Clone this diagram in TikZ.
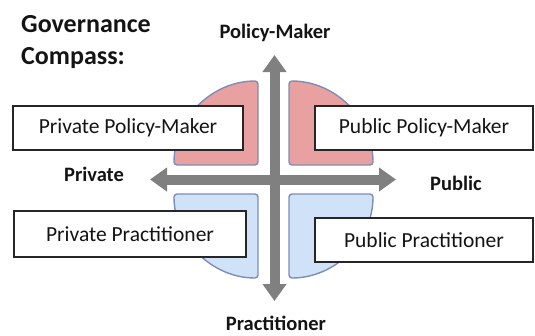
\documentclass[tikz,border=0pt]{standalone}
\usepackage{fontspec}
\setmainfont{Carlito}
\usetikzlibrary{arrows.meta}
\definecolor{quadpink}{RGB}{232,160,160}
\definecolor{quadblue}{RGB}{207,226,248}
\definecolor{quadedge}{RGB}{124,142,184}
\definecolor{axisgray}{RGB}{128,128,128}
\definecolor{inktext}{RGB}{20,20,20}
\begin{document}
\begin{tikzpicture}[x=1pt,y=-1pt,
  quadrant/.style={draw=quadedge,line width=1.4pt,rounded corners=3pt},
  axis/.style={draw=axisgray,line width=10pt,
    {Triangle[length=17pt,width=23pt]}-{Triangle[length=17pt,width=23pt]}},
  rolebox/.style={draw=black!85,line width=1.3pt,fill=white,text=inktext,
    font=\fontsize{21.5}{25}\selectfont,inner sep=0pt},
  axislabel/.style={text=inktext,font=\fontsize{20.5}{24}\selectfont\bfseries,inner sep=0pt},
]
\useasboundingbox (0,0) rectangle (535,335);

% four quadrants of the compass disc
\path[quadrant,fill=quadpink] (258,165) -- (174,165) arc[start angle=180,end angle=270,radius=84] -- cycle;
\path[quadrant,fill=quadpink] (289,165) -- (289,81) arc[start angle=270,end angle=360,radius=84] -- cycle;
\path[quadrant,fill=quadblue] (258,194) -- (174,194) arc[start angle=180,end angle=90,radius=84] -- cycle;
\path[quadrant,fill=quadblue] (289,194) -- (373,194) arc[start angle=0,end angle=90,radius=84] -- cycle;

% axis end points
\coordinate (north) at (274.5,55);
\coordinate (south) at (274.5,301);
\coordinate (west) at (150,179.5);
\coordinate (east) at (396,179.5);

\draw[axis] (west) -- (east);
\draw[axis] (south) -- (north);

% role boxes
\node[rolebox,minimum width=230pt,minimum height=44pt] (privpm) at (128,128) {Private Policy-Maker};
\node[rolebox,minimum width=232pt,minimum height=46pt] (privpr) at (130,234) {Private Practitioner};
\node[rolebox,minimum width=218pt,minimum height=44pt] (pubpm) at (424,128) {Public Policy-Maker};
\node[rolebox,minimum width=218pt,minimum height=44pt] (pubpr) at (424,240) {Public Practitioner};

% axis labels
\node[axislabel,anchor=base] (lnorth) at (275,38) {Policy-Maker};
\node[axislabel,anchor=base] (lsouth) at (276,330) {Practitioner};
\node[axislabel,anchor=base] (lwest) at (94,181) {Private};
\node[axislabel,anchor=base] (least) at (456,190) {Public};

% title
\node[text=inktext,font=\fontsize{26}{32}\selectfont\bfseries,anchor=north west,align=left,inner sep=0pt]
  (title) at (21,15) {Governance\\Compass:};
\end{tikzpicture}
\end{document}
